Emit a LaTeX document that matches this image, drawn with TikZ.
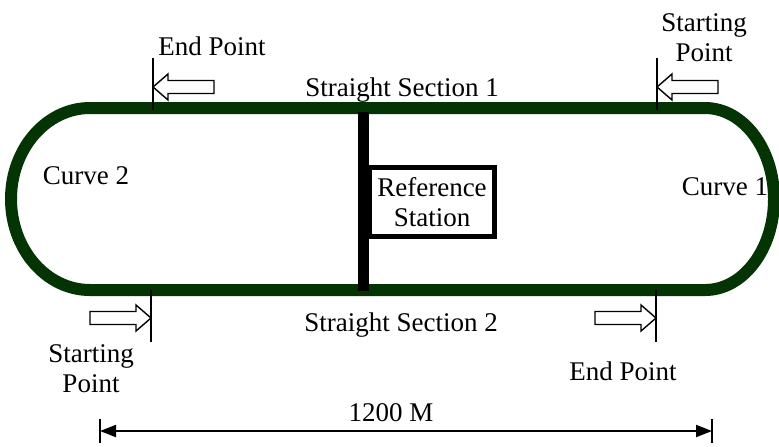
\documentclass[tikz,border=0pt]{standalone}
\usepackage{fontspec}
\setmainfont{Liberation Serif}
\usetikzlibrary{arrows.meta}
\definecolor{trackgreen}{RGB}{4,52,4}
\tikzset{
	blockarr/.pic={\draw[line width=0.7pt, fill=white] (0,0) -- (-15,13) -- (-15,6.5) -- (-61,6.5) -- (-61,-6.5) -- (-15,-6.5) -- (-15,-13) -- cycle;},
	marker/.style={line width=0.75pt},
	lbl/.style={font=\fontsize{13.5}{15}\selectfont, align=center, inner sep=0pt}
}
\begin{document}
\begin{tikzpicture}[x=0.5pt, y=-0.5pt]
			\useasboundingbox (0,0) rectangle (779,446);
			\draw[trackgreen, line width=6pt] (90,108) -- (705,108) arc[start angle=90, end angle=-90, x radius=34.5pt, y radius=45.5pt] -- (90,290) arc[start angle=270, end angle=90, x radius=39.5pt, y radius=45.5pt] -- cycle;
			\draw[line width=5.5pt] (363,112) -- (363,291);
			\node[draw, line width=2.5pt, minimum width=62.5pt, minimum height=34.5pt, fill=white, lbl] (station) at (432,202) {Reference\\Station};
			\node[lbl] (curvetwo) at (86,176) {Curve 2};
			\node[lbl] (curveone) at (725,187) {Curve 1};
			\node[lbl] (straightone) at (402,90) {Straight Section 1};
			\node[lbl] (straighttwo) at (401,325) {Straight Section 2};
			\node[lbl] (endtop) at (212,46) {End Point};
			\node[lbl] (starttop) at (704,38) {Starting\\Point};
			\node[lbl] (startbot) at (91,369) {Starting\\Point};
			\node[lbl] (endbot) at (623,371) {End Point};
			\draw[marker] (153,58) -- (153,110);
			\draw[marker] (657,58) -- (657,110);
			\draw[marker] (151,290) -- (151,342);
			\draw[marker] (656,290) -- (656,342);
			\pic[rotate=180] at (153,87) {blockarr};
			\pic[rotate=180] at (657,87) {blockarr};
			\pic at (151,318) {blockarr};
			\pic at (656,318) {blockarr};
			\coordinate (dimleft) at (100,431);
			\coordinate (dimright) at (712,431);
			\draw[marker] (100,419) -- (100,443);
			\draw[marker] (712,419) -- (712,443);
			\draw[line width=1pt, {Triangle[length=8pt,width=6pt]}-{Triangle[length=8pt,width=6pt]}] (dimleft) -- (dimright);
			\node[lbl] (dimtext) at (391,413) {1200 M};
\end{tikzpicture}
\end{document}
